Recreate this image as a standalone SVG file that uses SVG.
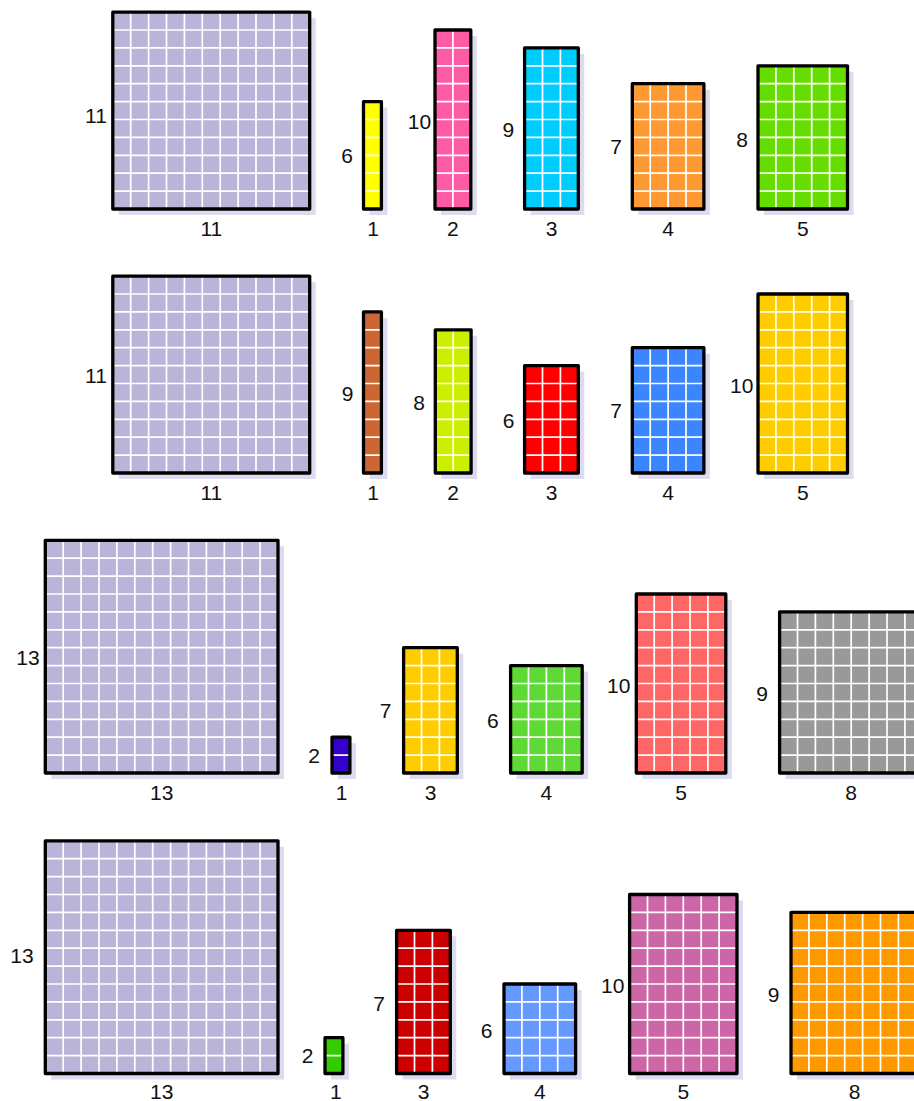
<svg xmlns="http://www.w3.org/2000/svg" xmlns:xlink="http://www.w3.org/1999/xlink" width="914" height="1101" viewBox="0 0 914 1101">
<style>
.sh{fill:#dddbef}
.edge{fill:none;stroke:#000;stroke-width:3.3;stroke-linejoin:round}
.grid{fill:none;stroke:#fff;stroke-width:1.7}
.lbl{font-family:"Liberation Sans",Arial,sans-serif;font-size:21px;fill:#111;text-anchor:middle}
</style>
<defs>
<path id="g11x11" d="M17.9 0V196.9M35.8 0V196.9M53.7 0V196.9M71.6 0V196.9M89.5 0V196.9M107.4 0V196.9M125.3 0V196.9M143.2 0V196.9M161.1 0V196.9M179 0V196.9M0 17.9H196.9M0 35.8H196.9M0 53.7H196.9M0 71.6H196.9M0 89.5H196.9M0 107.4H196.9M0 125.3H196.9M0 143.2H196.9M0 161.1H196.9M0 179H196.9"/>
<path id="g13x13" d="M17.9 0V232.7M35.8 0V232.7M53.7 0V232.7M71.6 0V232.7M89.5 0V232.7M107.4 0V232.7M125.3 0V232.7M143.2 0V232.7M161.1 0V232.7M179 0V232.7M196.9 0V232.7M214.8 0V232.7M0 17.9H232.7M0 35.8H232.7M0 53.7H232.7M0 71.6H232.7M0 89.5H232.7M0 107.4H232.7M0 125.3H232.7M0 143.2H232.7M0 161.1H232.7M0 179H232.7M0 196.9H232.7M0 214.8H232.7"/>
<path id="g1x6" d="M0 17.9H17.9M0 35.8H17.9M0 53.7H17.9M0 71.6H17.9M0 89.5H17.9"/>
<path id="g1x9" d="M0 17.9H17.9M0 35.8H17.9M0 53.7H17.9M0 71.6H17.9M0 89.5H17.9M0 107.4H17.9M0 125.3H17.9M0 143.2H17.9"/>
<path id="g1x2" d="M0 17.9H17.9"/>
<path id="g2x10" d="M17.9 0V179M0 17.9H35.8M0 35.8H35.8M0 53.7H35.8M0 71.6H35.8M0 89.5H35.8M0 107.4H35.8M0 125.3H35.8M0 143.2H35.8M0 161.1H35.8"/>
<path id="g2x8" d="M17.9 0V143.2M0 17.9H35.8M0 35.8H35.8M0 53.7H35.8M0 71.6H35.8M0 89.5H35.8M0 107.4H35.8M0 125.3H35.8"/>
<path id="g3x9" d="M17.9 0V161.1M35.8 0V161.1M0 17.9H53.7M0 35.8H53.7M0 53.7H53.7M0 71.6H53.7M0 89.5H53.7M0 107.4H53.7M0 125.3H53.7M0 143.2H53.7"/>
<path id="g3x6" d="M17.9 0V107.4M35.8 0V107.4M0 17.9H53.7M0 35.8H53.7M0 53.7H53.7M0 71.6H53.7M0 89.5H53.7"/>
<path id="g3x7" d="M17.9 0V125.3M35.8 0V125.3M0 17.9H53.7M0 35.8H53.7M0 53.7H53.7M0 71.6H53.7M0 89.5H53.7M0 107.4H53.7"/>
<path id="g3x8" d="M17.9 0V143.2M35.8 0V143.2M0 17.9H53.7M0 35.8H53.7M0 53.7H53.7M0 71.6H53.7M0 89.5H53.7M0 107.4H53.7M0 125.3H53.7"/>
<path id="g4x7" d="M17.9 0V125.3M35.8 0V125.3M53.7 0V125.3M0 17.9H71.6M0 35.8H71.6M0 53.7H71.6M0 71.6H71.6M0 89.5H71.6M0 107.4H71.6"/>
<path id="g4x6" d="M17.9 0V107.4M35.8 0V107.4M53.7 0V107.4M0 17.9H71.6M0 35.8H71.6M0 53.7H71.6M0 71.6H71.6M0 89.5H71.6"/>
<path id="g4x5" d="M17.9 0V89.5M35.8 0V89.5M53.7 0V89.5M0 17.9H71.6M0 35.8H71.6M0 53.7H71.6M0 71.6H71.6"/>
<path id="g5x8" d="M17.9 0V143.2M35.8 0V143.2M53.7 0V143.2M71.6 0V143.2M0 17.9H89.5M0 35.8H89.5M0 53.7H89.5M0 71.6H89.5M0 89.5H89.5M0 107.4H89.5M0 125.3H89.5"/>
<path id="g5x10" d="M17.9 0V179M35.8 0V179M53.7 0V179M71.6 0V179M0 17.9H89.5M0 35.8H89.5M0 53.7H89.5M0 71.6H89.5M0 89.5H89.5M0 107.4H89.5M0 125.3H89.5M0 143.2H89.5M0 161.1H89.5"/>
<path id="g6x10" d="M17.9 0V179M35.8 0V179M53.7 0V179M71.6 0V179M89.5 0V179M0 17.9H107.4M0 35.8H107.4M0 53.7H107.4M0 71.6H107.4M0 89.5H107.4M0 107.4H107.4M0 125.3H107.4M0 143.2H107.4M0 161.1H107.4"/>
<path id="g8x9" d="M17.9 0V161.1M35.8 0V161.1M53.7 0V161.1M71.6 0V161.1M89.5 0V161.1M107.4 0V161.1M125.3 0V161.1M0 17.9H143.2M0 35.8H143.2M0 53.7H143.2M0 71.6H143.2M0 89.5H143.2M0 107.4H143.2M0 125.3H143.2M0 143.2H143.2"/>
<path id="g7x9" d="M17.9 0V161.1M35.8 0V161.1M53.7 0V161.1M71.6 0V161.1M89.5 0V161.1M107.4 0V161.1M0 17.9H125.3M0 35.8H125.3M0 53.7H125.3M0 71.6H125.3M0 89.5H125.3M0 107.4H125.3M0 125.3H125.3M0 143.2H125.3"/>
</defs>
<rect width="914" height="1101" fill="#fff"/>

<!-- Row 1 -->
<g id="r1-square">
<g transform="translate(112.8,12.1)"><rect class="sh" x="6" y="6" width="196.9" height="196.9"/><rect width="196.9" height="196.9" fill="#bab5d8"/><use xlink:href="#g11x11" class="grid"/><rect class="edge" width="196.9" height="196.9"/></g>
<text class="lbl" x="96" y="122.5">11</text><text class="lbl" x="211.3" y="236">11</text>
</g>
<g id="r1-1">
<g transform="translate(363.5,101.6)"><rect class="sh" x="6" y="6" width="17.9" height="107.4"/><rect width="17.9" height="107.4" fill="#ffff00"/><use xlink:href="#g1x6" class="grid"/><rect class="edge" width="17.9" height="107.4"/></g>
<text class="lbl" x="347" y="162.7">6</text><text class="lbl" x="373" y="236">1</text>
</g>
<g id="r1-2">
<g transform="translate(435,30)"><rect class="sh" x="6" y="6" width="35.8" height="179"/><rect width="35.8" height="179" fill="#ff5aa6"/><use xlink:href="#g2x10" class="grid"/><rect class="edge" width="35.8" height="179"/></g>
<text class="lbl" x="419.5" y="129">10</text><text class="lbl" x="452.9" y="236">2</text>
</g>
<g id="r1-3">
<g transform="translate(524.6,47.9)"><rect class="sh" x="6" y="6" width="53.7" height="161.1"/><rect width="53.7" height="161.1" fill="#00ccff"/><use xlink:href="#g3x9" class="grid"/><rect class="edge" width="53.7" height="161.1"/></g>
<text class="lbl" x="508.3" y="137.3">9</text><text class="lbl" x="551.5" y="236">3</text>
</g>
<g id="r1-4">
<g transform="translate(632.3,83.7)"><rect class="sh" x="6" y="6" width="71.6" height="125.3"/><rect width="71.6" height="125.3" fill="#ff9933"/><use xlink:href="#g4x7" class="grid"/><rect class="edge" width="71.6" height="125.3"/></g>
<text class="lbl" x="616" y="154.3">7</text><text class="lbl" x="668.1" y="236">4</text>
</g>
<g id="r1-5">
<g transform="translate(758,65.8)"><rect class="sh" x="6" y="6" width="89.5" height="143.2"/><rect width="89.5" height="143.2" fill="#66dd00"/><use xlink:href="#g5x8" class="grid"/><rect class="edge" width="89.5" height="143.2"/></g>
<text class="lbl" x="742" y="146.7">8</text><text class="lbl" x="802.8" y="236">5</text>
</g>

<!-- Row 2 -->
<g id="r2-square">
<g transform="translate(112.8,276.1)"><rect class="sh" x="6" y="6" width="196.9" height="196.9"/><rect width="196.9" height="196.9" fill="#bab5d8"/><use xlink:href="#g11x11" class="grid"/><rect class="edge" width="196.9" height="196.9"/></g>
<text class="lbl" x="96" y="383">11</text><text class="lbl" x="211.3" y="500">11</text>
</g>
<g id="r2-1">
<g transform="translate(363.5,311.9)"><rect class="sh" x="6" y="6" width="17.9" height="161.1"/><rect width="17.9" height="161.1" fill="#cc6633"/><use xlink:href="#g1x9" class="grid"/><rect class="edge" width="17.9" height="161.1"/></g>
<text class="lbl" x="347.5" y="401">9</text><text class="lbl" x="373" y="500">1</text>
</g>
<g id="r2-2">
<g transform="translate(435.3,329.8)"><rect class="sh" x="6" y="6" width="35.8" height="143.2"/><rect width="35.8" height="143.2" fill="#ccee00"/><use xlink:href="#g2x8" class="grid"/><rect class="edge" width="35.8" height="143.2"/></g>
<text class="lbl" x="419" y="410">8</text><text class="lbl" x="453.2" y="500">2</text>
</g>
<g id="r2-3">
<g transform="translate(524.6,365.6)"><rect class="sh" x="6" y="6" width="53.7" height="107.4"/><rect width="53.7" height="107.4" fill="#ff0000"/><use xlink:href="#g3x6" class="grid"/><rect class="edge" width="53.7" height="107.4"/></g>
<text class="lbl" x="508.5" y="427.5">6</text><text class="lbl" x="551.5" y="500">3</text>
</g>
<g id="r2-4">
<g transform="translate(632.3,347.7)"><rect class="sh" x="6" y="6" width="71.6" height="125.3"/><rect width="71.6" height="125.3" fill="#3b86ff"/><use xlink:href="#g4x7" class="grid"/><rect class="edge" width="71.6" height="125.3"/></g>
<text class="lbl" x="616" y="418.3">7</text><text class="lbl" x="668.1" y="500">4</text>
</g>
<g id="r2-5">
<g transform="translate(758,294)"><rect class="sh" x="6" y="6" width="89.5" height="179"/><rect width="89.5" height="179" fill="#ffcc00"/><use xlink:href="#g5x10" class="grid"/><rect class="edge" width="89.5" height="179"/></g>
<text class="lbl" x="741.7" y="393.3">10</text><text class="lbl" x="802.8" y="500">5</text>
</g>

<!-- Row 3 -->
<g id="r3-square">
<g transform="translate(45.3,540.3)"><rect class="sh" x="6" y="6" width="232.7" height="232.7"/><rect width="232.7" height="232.7" fill="#bab5d8"/><use xlink:href="#g13x13" class="grid"/><rect class="edge" width="232.7" height="232.7"/></g>
<text class="lbl" x="28" y="665">13</text><text class="lbl" x="161.7" y="799.5">13</text>
</g>
<g id="r3-1">
<g transform="translate(332,737.2)"><rect class="sh" x="6" y="6" width="17.9" height="35.8"/><rect width="17.9" height="35.8" fill="#3300cc"/><use xlink:href="#g1x2" class="grid"/><rect class="edge" width="17.9" height="35.8"/></g>
<text class="lbl" x="314" y="763.3">2</text><text class="lbl" x="341.5" y="799.5">1</text>
</g>
<g id="r3-3">
<g transform="translate(403.6,647.7)"><rect class="sh" x="6" y="6" width="53.7" height="125.3"/><rect width="53.7" height="125.3" fill="#ffcc00"/><use xlink:href="#g3x7" class="grid"/><rect class="edge" width="53.7" height="125.3"/></g>
<text class="lbl" x="385.5" y="718.3">7</text><text class="lbl" x="430.5" y="799.5">3</text>
</g>
<g id="r3-4">
<g transform="translate(510.6,665.6)"><rect class="sh" x="6" y="6" width="71.6" height="107.4"/><rect width="71.6" height="107.4" fill="#5fd935"/><use xlink:href="#g4x6" class="grid"/><rect class="edge" width="71.6" height="107.4"/></g>
<text class="lbl" x="492.8" y="727.7">6</text><text class="lbl" x="546.4" y="799.5">4</text>
</g>
<g id="r3-5">
<g transform="translate(636.3,594)"><rect class="sh" x="6" y="6" width="89.5" height="179"/><rect width="89.5" height="179" fill="#ff6666"/><use xlink:href="#g5x10" class="grid"/><rect class="edge" width="89.5" height="179"/></g>
<text class="lbl" x="618.7" y="693.3">10</text><text class="lbl" x="681" y="799.5">5</text>
</g>
<g id="r3-8">
<g transform="translate(779.6,611.9)"><rect class="sh" x="6" y="6" width="143.2" height="161.1"/><rect width="143.2" height="161.1" fill="#999999"/><use xlink:href="#g8x9" class="grid"/><rect class="edge" width="143.2" height="161.1"/></g>
<text class="lbl" x="762" y="700.7">9</text><text class="lbl" x="851.2" y="799.5">8</text>
</g>

<!-- Row 4 -->
<g id="r4-square">
<g transform="translate(45.3,840.8)"><rect class="sh" x="6" y="6" width="232.7" height="232.7"/><rect width="232.7" height="232.7" fill="#bab5d8"/><use xlink:href="#g13x13" class="grid"/><rect class="edge" width="232.7" height="232.7"/></g>
<text class="lbl" x="22" y="963.3">13</text><text class="lbl" x="161.7" y="1098.5">13</text>
</g>
<g id="r4-1">
<g transform="translate(325,1037.7)"><rect class="sh" x="6" y="6" width="17.9" height="35.8"/><rect width="17.9" height="35.8" fill="#33cc00"/><use xlink:href="#g1x2" class="grid"/><rect class="edge" width="17.9" height="35.8"/></g>
<text class="lbl" x="307.5" y="1063.3">2</text><text class="lbl" x="335.8" y="1098.5">1</text>
</g>
<g id="r4-3">
<g transform="translate(396.6,930.3)"><rect class="sh" x="6" y="6" width="53.7" height="143.2"/><rect width="53.7" height="143.2" fill="#cc0000"/><use xlink:href="#g3x8" class="grid"/><rect class="edge" width="53.7" height="143.2"/></g>
<text class="lbl" x="379" y="1010.7">7</text><text class="lbl" x="423.5" y="1098.5">3</text>
</g>
<g id="r4-4">
<g transform="translate(504,984)"><rect class="sh" x="6" y="6" width="71.6" height="89.5"/><rect width="71.6" height="89.5" fill="#6699ff"/><use xlink:href="#g4x5" class="grid"/><rect class="edge" width="71.6" height="89.5"/></g>
<text class="lbl" x="486.5" y="1038.3">6</text><text class="lbl" x="539.8" y="1098.5">4</text>
</g>
<g id="r4-5">
<g transform="translate(629.6,894.5)"><rect class="sh" x="6" y="6" width="107.4" height="179"/><rect width="107.4" height="179" fill="#cc66a6"/><use xlink:href="#g6x10" class="grid"/><rect class="edge" width="107.4" height="179"/></g>
<text class="lbl" x="612.7" y="993.3">10</text><text class="lbl" x="683.3" y="1098.5">5</text>
</g>
<g id="r4-8">
<g transform="translate(791,912.4)"><rect class="sh" x="6" y="6" width="125.3" height="161.1"/><rect width="125.3" height="161.1" fill="#ff9900"/><use xlink:href="#g7x9" class="grid"/><rect class="edge" width="125.3" height="161.1"/></g>
<text class="lbl" x="773.5" y="1001.7">9</text><text class="lbl" x="854.5" y="1098.5">8</text>
</g>

<g id="connectors"/>
</svg>
